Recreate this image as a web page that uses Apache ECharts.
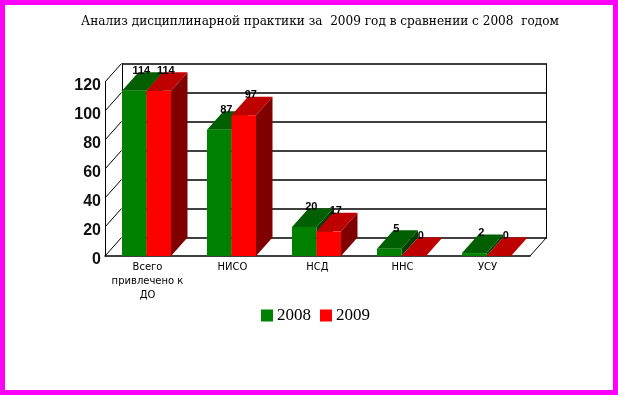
<!DOCTYPE html>
<html>
<head>
<meta charset="utf-8">
<style>
    html, body { margin: 0; padding: 0; background: #fff; }
    #show_picture { width: 618px; height: 395px; }
</style>
<script src="https://cdn.jsdelivr.net/npm/echarts@6/dist/echarts.min.js"></script>
</head>
<body>
<div id="show_picture"></div>
<script>
const categories = ['Всего\nпривлечено к\nДО', 'НИСО', 'НСД', 'ННС', 'УСУ'];
const values2008 = [114, 87, 20, 5, 2];
const values2009 = [114, 97, 17, 0, 0];
const yTicks = [0, 20, 40, 60, 80, 100, 120];

let myChart = echarts.init(document.getElementById('show_picture'));

// the fake 3D depth, in pixels
const depthX = 16.5;
const depthY = 18.5;
const barWidth = 24.5;

function bar3d(offset, front, top, side) {
    return function (params, api) {
        let c = api.coord([api.value(0), api.value(1)]);
        let base = api.coord([api.value(0), 0]);
        let x = c[0] + offset;
        let y = c[1];
        let x2 = x + barWidth;
        let children = [
            {
                type: 'polygon',
                shape: { points: [[x2, y], [x2 + depthX, y - depthY], [x2 + depthX, base[1] - depthY], [x2, base[1]]] },
                style: { fill: side }
            },
            {
                type: 'polygon',
                shape: { points: [[x, y], [x + depthX, y - depthY], [x2 + depthX, y - depthY], [x2, y]] },
                style: { fill: top }
            },
            {
                type: 'rect',
                shape: { x: x, y: y, width: barWidth, height: base[1] - y },
                style: { fill: front }
            },
            {
                type: 'text',
                z2: 10,
                style: {
                    x: x + barWidth / 2 + 7,
                    y: y - 20,
                    text: String(api.value(1)),
                    align: 'center',
                    verticalAlign: 'middle',
                    fill: '#000',
                    font: 'bold 11px "Liberation Sans"'
                }
            }
        ];
        return { type: 'group', children: children };
    };
}

// slanted lines joining the front plane to the back wall
function wallLines(params, api) {
    let y = api.coord([0, api.value(1)])[1];
    let left = params.coordSys.x;
    let right = left + params.coordSys.width;
    let lineStyle = { stroke: '#000', lineWidth: 1 };
    let children = [
        { type: 'line', shape: { x1: left, y1: y, x2: left + depthX, y2: y - depthY }, style: lineStyle }
    ];
    if (api.value(1) === 0) {
        children.push({ type: 'line', shape: { x1: right, y1: y, x2: right + depthX, y2: y - depthY }, style: lineStyle });
    }
    return { type: 'group', children: children };
}

let option = {
    animation: false,
    backgroundColor: '#fff',
    textStyle: { fontFamily: 'Liberation Sans' },
    title: {
        text: 'Анализ дисциплинарной практики за  2009 год в сравнении с 2008  годом',
        left: 315,
        top: 11,
        textAlign: 'center',
        textStyle: { fontFamily: 'DejaVu Serif', fontSize: 12.1, fontWeight: 'normal', color: '#000' }
    },
    legend: {
        data: ['2008', '2009'],
        left: 256,
        top: 302,
        icon: 'rect',
        itemWidth: 12,
        itemHeight: 12,
        itemGap: 9,
        textStyle: { fontFamily: 'Liberation Serif', fontSize: 17, color: '#000', padding: [0, 0, 0, -1] }
    },
    grid: [
        { left: 105, top: 82, width: 425, height: 174 },
        { left: 122, top: 64, width: 425, height: 174 }
    ],
    xAxis: [
        {
            type: 'category',
            gridIndex: 0,
            data: categories,
            axisTick: { show: false },
            axisLine: { lineStyle: { color: '#000', width: 1.5 } },
            axisLabel: {
                interval: 0,
                margin: 4,
                lineHeight: 14,
                color: '#000',
                fontFamily: 'DejaVu Sans',
                fontSize: 10
            }
        },
        {
            type: 'category',
            gridIndex: 1,
            data: categories,
            axisTick: { show: false },
            axisLabel: { show: false },
            axisLine: { show: false }
        }
    ],
    yAxis: [
        {
            type: 'value',
            gridIndex: 0,
            min: 0,
            max: 120,
            interval: 20,
            splitLine: { show: false },
            axisTick: { show: false },
            axisLine: { show: true, lineStyle: { color: '#000', width: 1 } },
            axisLabel: { margin: 4, color: '#111', fontSize: 16, fontWeight: 'bold', verticalAlign: 'top', lineHeight: 8 }
        },
        {
            type: 'value',
            gridIndex: 1,
            min: 0,
            max: 120,
            interval: 20,
            axisLabel: { show: false },
            axisTick: { show: false },
            axisLine: { show: true, lineStyle: { color: '#000', width: 1 } },
            splitLine: { show: true, lineStyle: { color: '#000', width: 1.5 } }
        }
    ],
    series: [
        {
            type: 'custom',
            silent: true,
            xAxisIndex: 0,
            yAxisIndex: 0,
            data: yTicks.map((v) => [0, v]),
            renderItem: wallLines
        },
        {
            name: '2008',
            type: 'custom',
            xAxisIndex: 0,
            yAxisIndex: 0,
            itemStyle: { color: '#008000' },
            data: values2008.map((v, i) => [i, v]),
            renderItem: bar3d(-25.5, '#008000', '#005f00', '#004000')
        },
        {
            name: '2009',
            type: 'custom',
            xAxisIndex: 0,
            yAxisIndex: 0,
            itemStyle: { color: '#ff0000' },
            data: values2009.map((v, i) => [i, v]),
            renderItem: bar3d(-1, '#ff0000', '#bf0000', '#800000')
        }
    ],
    graphic: [
        {
            type: 'rect',
            silent: true,
            shape: { x: 2.5, y: 2.5, width: 613, height: 390 },
            style: { fill: 'none', stroke: '#ff00ff', lineWidth: 5 }
        },
        {
            // right edge of the back wall
            type: 'line',
            silent: true,
            shape: { x1: 546.5, y1: 64, x2: 546.5, y2: 238 },
            style: { stroke: '#000', lineWidth: 1 }
        }
    ]
};

myChart.setOption(option);
</script>
</body>
</html>
